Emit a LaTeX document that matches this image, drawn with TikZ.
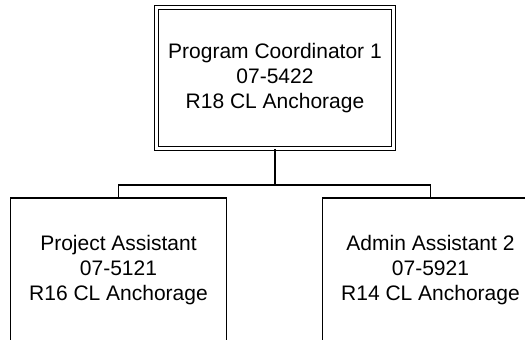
\documentclass[tikz,border=0pt]{standalone}
\usepackage{fontspec}
\setmainfont{Liberation Sans}
\usepackage{tikz}
\usetikzlibrary{positioning}

\begin{document}
\begin{tikzpicture}[x=1pt, y=1pt, font=\fontsize{21}{25}\selectfont,
	post/.style = {draw, line width=1.2pt, align=center, minimum width=216pt, minimum height=144pt, inner sep=0pt},
	head/.style = {draw, double, line width=1.2pt, double distance=2.3pt, align=center, minimum width=237pt, minimum height=141pt, inner sep=0pt}]
	\useasboundingbox (0,0) rectangle (525,340);
	\clip (0,0) rectangle (525,340);
	\node[head] (pc) at (275,262) {Program Coordinator 1\\07-5422\\R18 CL Anchorage};
	\node[post] (pa) at (118.5,70) {Project Assistant\\07-5121\\R16 CL Anchorage};
	\node[post] (aa) at (430.5,70) {Admin Assistant 2\\07-5921\\R14 CL Anchorage};
	% org lines
	\draw[line width=1.2pt] (pc.south) -- ++(0,-36) coordinate (bar);
	\draw[line width=1.2pt] (bar) -| (pa.north);
	\draw[line width=1.2pt] (bar) -| (aa.north);
\end{tikzpicture}
\end{document}
